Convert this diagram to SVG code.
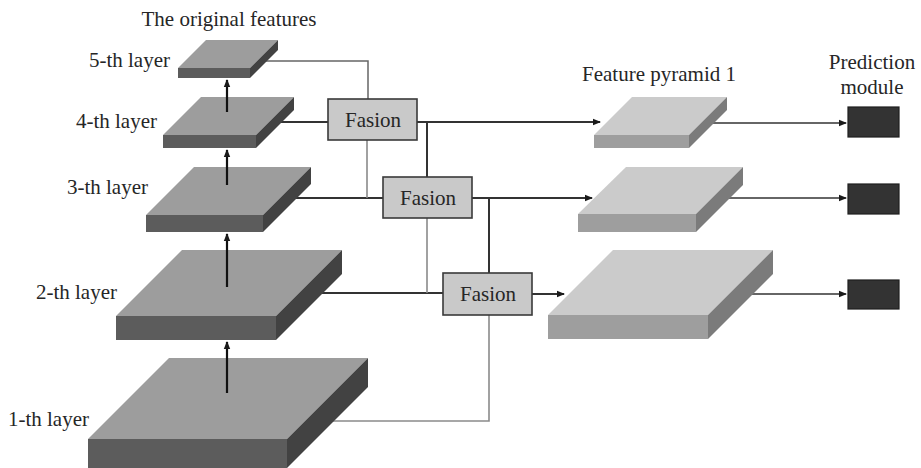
<svg xmlns="http://www.w3.org/2000/svg" width="921" height="468" viewBox="0 0 921 468">
  <style>
    .lbl { font-family: "Liberation Serif", "Times New Roman", serif; font-size: 21px; fill: #262626; }
    .mid { text-anchor: middle; }
    .end { text-anchor: end; }
    .top-d { fill: #9d9d9d; }
    .front-d { fill: #5c5c5c; }
    .side-d { fill: #424242; }
    .top-l { fill: #cbcbcb; }
    .front-l { fill: #9e9e9e; }
    .side-l { fill: #7b7b7b; }
    .fusion { fill: #c9c9c9; stroke: #3a3a3a; stroke-width: 1.6; }
    .pred { fill: #333333; stroke: #1e1e1e; stroke-width: 1.2; }
    .wire { fill: none; stroke: #333333; stroke-width: 2; }
    .wire-thin { fill: none; stroke: #333333; stroke-width: 1.6; }
    .wire-grey { fill: none; stroke: #8a8a8a; stroke-width: 1.6; }
    .wire-mid { fill: none; stroke: #666666; stroke-width: 1.5; }
    .up { fill: none; stroke: #111111; stroke-width: 2.2; }
  </style>
  <defs>
    <marker id="head" viewBox="0 0 8 8" refX="7" refY="4" markerWidth="8" markerHeight="8" markerUnits="userSpaceOnUse" orient="auto">
      <path d="M0,0.8 L8,4 L0,7.2 Z" fill="#1a1a1a"/>
    </marker>
  </defs>

  <rect width="921" height="468" fill="#ffffff"/>

  <!-- connectors (drawn first so they emerge from behind the slabs) -->
  <g id="connectors">
    <!-- backbone to fusion blocks -->
    <polyline class="wire-mid" points="262,61 368,61 368,99"/>
    <line class="wire" x1="278" y1="122" x2="328" y2="122"/>
    <line class="wire" x1="292" y1="198" x2="383" y2="198"/>
    <line class="wire" x1="318" y1="293" x2="443" y2="293"/>
    <polyline class="wire-grey" points="330,421 489,421 489,315"/>
    <!-- fusion chaining -->
    <line class="wire-grey" x1="367" y1="140" x2="367" y2="198"/>
    <line class="wire-grey" x1="427" y1="218" x2="427" y2="293"/>
    <line class="wire" x1="427" y1="122" x2="427" y2="177"/>
    <line class="wire" x1="489" y1="198" x2="489" y2="273"/>
    <!-- fusion outputs to feature pyramid -->
    <line class="wire" x1="417" y1="122" x2="600" y2="122" marker-end="url(#head)"/>
    <line class="wire" x1="472" y1="198" x2="592" y2="198" marker-end="url(#head)"/>
    <line class="wire" x1="532" y1="294" x2="564" y2="294" marker-end="url(#head)"/>
    <!-- feature pyramid to prediction modules -->
    <line class="wire-thin" x1="710" y1="123" x2="846" y2="123" marker-end="url(#head)"/>
    <line class="wire-thin" x1="726" y1="198" x2="846" y2="198" marker-end="url(#head)"/>
    <line class="wire-thin" x1="749" y1="294" x2="846" y2="294" marker-end="url(#head)"/>
  </g>

  <!-- original feature layers -->
  <g id="layer1">
    <polygon class="top-d" points="88,439 169,358 368,358 287,439"/>
    <polygon class="front-d" points="88,439 287,439 287,468 88,468"/>
    <polygon class="side-d" points="287,439 368,358 368,387 287,468"/>
  </g>
  <g id="layer2">
    <polygon class="top-d" points="116,316 182,250 342,250 276,316"/>
    <polygon class="front-d" points="116,316 276,316 276,340 116,340"/>
    <polygon class="side-d" points="276,316 342,250 342,274 276,340"/>
  </g>
  <g id="layer3">
    <polygon class="top-d" points="146,215 194,167 311,167 263,215"/>
    <polygon class="front-d" points="146,215 263,215 263,232 146,232"/>
    <polygon class="side-d" points="263,215 311,167 311,184 263,232"/>
  </g>
  <g id="layer4">
    <polygon class="top-d" points="163,135 201,97 294,97 256,135"/>
    <polygon class="front-d" points="163,135 256,135 256,148 163,148"/>
    <polygon class="side-d" points="256,135 294,97 294,110 256,148"/>
  </g>
  <g id="layer5">
    <polygon class="top-d" points="178,68 206,40 278,40 250,68"/>
    <polygon class="front-d" points="178,68 250,68 250,78 178,78"/>
    <polygon class="side-d" points="250,68 278,40 278,50 250,78"/>
  </g>

  <!-- bottom-up arrows through the backbone -->
  <g id="backbone-arrows">
    <line class="up" x1="227" y1="393" x2="227" y2="342" marker-end="url(#head)"/>
    <line class="up" x1="227" y1="287" x2="227" y2="234" marker-end="url(#head)"/>
    <line class="up" x1="227" y1="185" x2="227" y2="150" marker-end="url(#head)"/>
    <line class="up" x1="227" y1="112" x2="227" y2="80" marker-end="url(#head)"/>
  </g>

  <!-- fusion blocks -->
  <g id="fusion1">
    <rect class="fusion" x="328" y="99" width="89" height="41"/>
    <text class="lbl mid" x="373" y="127">Fasion</text>
  </g>
  <g id="fusion2">
    <rect class="fusion" x="383" y="177" width="89" height="41"/>
    <text class="lbl mid" x="428" y="205">Fasion</text>
  </g>
  <g id="fusion3">
    <rect class="fusion" x="443" y="273" width="89" height="42"/>
    <text class="lbl mid" x="488" y="301">Fasion</text>
  </g>

  <!-- feature pyramid 1 -->
  <g id="pyramid1">
    <polygon class="top-l" points="594,135 632,97 727,97 689,135"/>
    <polygon class="front-l" points="594,135 689,135 689,148 594,148"/>
    <polygon class="side-l" points="689,135 727,97 727,110 689,148"/>
  </g>
  <g id="pyramid2">
    <polygon class="top-l" points="578,214 626,167 743,167 696,214"/>
    <polygon class="front-l" points="578,214 696,214 696,232 578,232"/>
    <polygon class="side-l" points="696,214 743,167 743,185 696,232"/>
  </g>
  <g id="pyramid3">
    <polygon class="top-l" points="548,315 613,250 773,250 708,315"/>
    <polygon class="front-l" points="548,315 708,315 708,339 548,339"/>
    <polygon class="side-l" points="708,315 773,250 773,274 708,339"/>
  </g>

  <!-- prediction modules -->
  <g id="pred1"><rect class="pred" x="848" y="107" width="51" height="30"/></g>
  <g id="pred2"><rect class="pred" x="848" y="184" width="51" height="30"/></g>
  <g id="pred3"><rect class="pred" x="848" y="280" width="51" height="29"/></g>

  <!-- labels -->
  <g id="labels">
    <text class="lbl mid" x="229" y="26">The original features</text>
    <text class="lbl end" x="170" y="67">5-th layer</text>
    <text class="lbl end" x="157" y="128">4-th layer</text>
    <text class="lbl end" x="148" y="194">3-th layer</text>
    <text class="lbl end" x="117" y="299">2-th layer</text>
    <text class="lbl end" x="89" y="426">1-th layer</text>
    <text class="lbl mid" x="659" y="81">Feature pyramid 1</text>
    <text class="lbl mid" x="872" y="69">Prediction</text>
    <text class="lbl mid" x="872" y="94">module</text>
  </g>
</svg>
